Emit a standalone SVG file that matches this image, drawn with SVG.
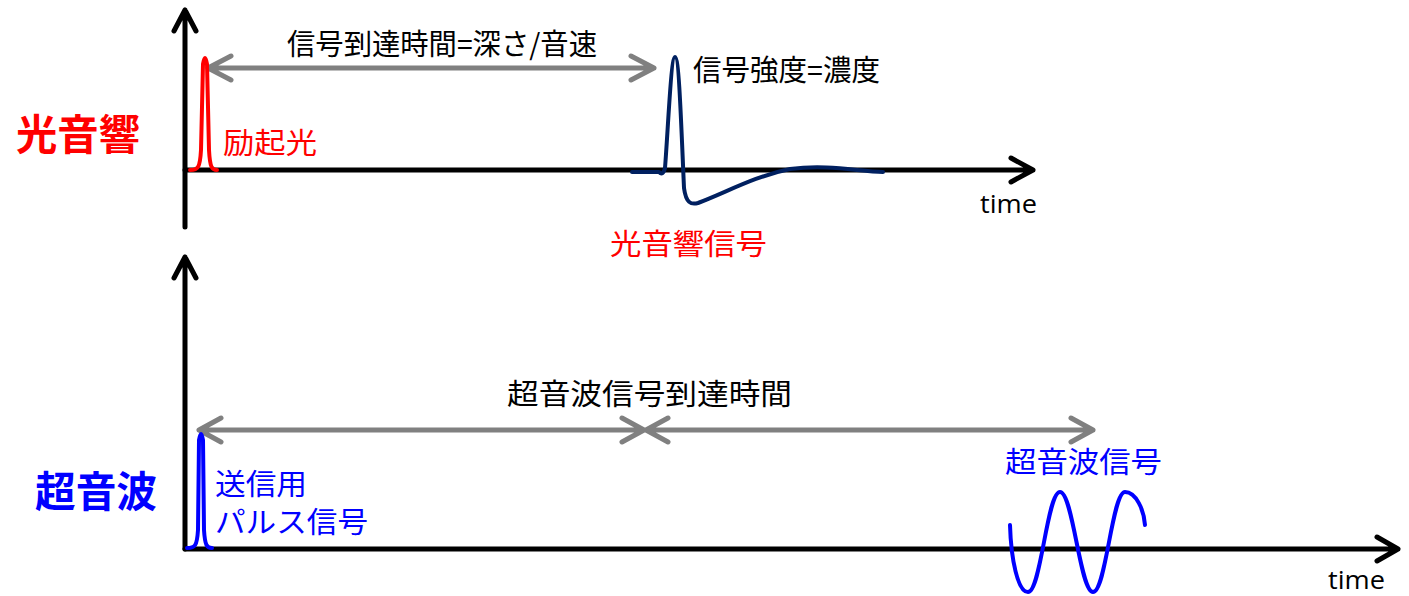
<svg xmlns="http://www.w3.org/2000/svg" width="1409" height="596" viewBox="0 0 1409 596">
<style>
.axis{fill:none;stroke:#000;stroke-width:5;stroke-linecap:round;stroke-linejoin:round}
.gray{fill:none;stroke:#808080;stroke-width:5;stroke-linecap:round;stroke-linejoin:round}
.lbl{font-family:"Noto Sans CJK JP","Noto Sans CJK SC",sans-serif;font-size:29px}
.big{font-family:"Noto Sans CJK JP","Noto Sans CJK SC",sans-serif;font-size:42px;font-weight:bold}
.time{font-family:"Open Sans","Liberation Sans",sans-serif;font-size:26px;fill:#000}
</style>
<rect width="1409" height="596" fill="#fff"/>
<g id="connectors">
  <path class="axis" d="M185,227 L185,10 M174,31 L185,10 L196,31"/>
  <path class="axis" d="M185,170 L1033,170 M1011,158 L1033,170 L1011,182"/>
  <path class="axis" d="M185,549 L185,257 M174,278 L185,257 L196,278"/>
  <path class="axis" d="M185,549 L1398,549 M1377,537 L1398,549 L1377,561"/>
  <path class="gray" d="M208,68 L654,68 M231,56 L208,68 L231,80 M631,56 L654,68 L631,80"/>
  <path class="gray" d="M199,430 L644,430 M221,418 L199,430 L221,442 M622,418 L644,430 L622,442"/>
  <path class="gray" d="M646,430 L1093,430 M668,418 L646,430 L668,442 M1071,418 L1093,430 L1071,442"/>
</g>
<g id="excitation">
  <path d="M190,170 C198,170 200,168 201,150 L203,64 Q205,52 207,64 L209,150 C210,168 212,170 217,170" fill="none" stroke="#ff0000" stroke-width="4" stroke-linecap="round" stroke-linejoin="round"/>
  <text class="lbl" x="223" y="154" fill="#ff0000" textLength="94" lengthAdjust="spacingAndGlyphs">励起光</text>
</g>
<g id="pa-signal">
  <path d="M632,172 L659,172 Q663,176 665,168 C668,130 671,57 675,57 C679,57 681,120 684,188 C686,203 691,205 698,203 C725,193 755,176 790,169 C830,164 860,172 883,172" fill="none" stroke="#002060" stroke-width="4" stroke-linecap="round" stroke-linejoin="round"/>
  <text class="lbl" x="610" y="255" fill="#ff0000" textLength="157" lengthAdjust="spacingAndGlyphs">光音響信号</text>
  <text class="lbl" x="693" y="81" fill="#000" textLength="187" lengthAdjust="spacingAndGlyphs">信号強度=濃度</text>
</g>
<g id="top-time-label">
  <text class="lbl" x="287" y="55" fill="#000" textLength="310" lengthAdjust="spacingAndGlyphs">信号到達時間=深さ/音速</text>
  <text class="time" x="980" y="213" textLength="57" lengthAdjust="spacingAndGlyphs">time</text>
</g>
<g id="pa-title">
  <text class="big" x="16" y="150" fill="#ff0000" textLength="124" lengthAdjust="spacingAndGlyphs">光音響</text>
</g>
<g id="us-title">
  <text class="big" x="35" y="507" fill="#0000ff" textLength="122" lengthAdjust="spacingAndGlyphs">超音波</text>
</g>
<g id="tx-pulse">
  <path d="M187,548 C195,548 197,546 198,530 L199,440 Q201,428 203,440 L204,530 C205,546 207,548 212,548" fill="none" stroke="#0000ff" stroke-width="4" stroke-linecap="round" stroke-linejoin="round"/>
  <text class="lbl" x="215" y="495" fill="#0000ff" textLength="92" lengthAdjust="spacingAndGlyphs">送信用</text>
  <text class="lbl" x="215" y="533" fill="#0000ff" textLength="153" lengthAdjust="spacingAndGlyphs">パルス信号</text>
</g>
<g id="us-signal">
  <path d="M1010,525 C1011,560 1018,592 1028,592 C1041,592 1047,492 1060,492 C1073,492 1080,592 1093,592 C1106,592 1112,492 1125,492 C1136,492 1144,510 1145,525" fill="none" stroke="#0000ff" stroke-width="4" stroke-linecap="round" stroke-linejoin="round"/>
  <text class="lbl" x="1005" y="473" fill="#0000ff" textLength="157" lengthAdjust="spacingAndGlyphs">超音波信号</text>
</g>
<g id="us-time-label">
  <text class="lbl" x="507" y="405" fill="#000" textLength="285" lengthAdjust="spacingAndGlyphs">超音波信号到達時間</text>
  <text class="time" x="1328" y="589" textLength="57" lengthAdjust="spacingAndGlyphs">time</text>
</g>
</svg>
